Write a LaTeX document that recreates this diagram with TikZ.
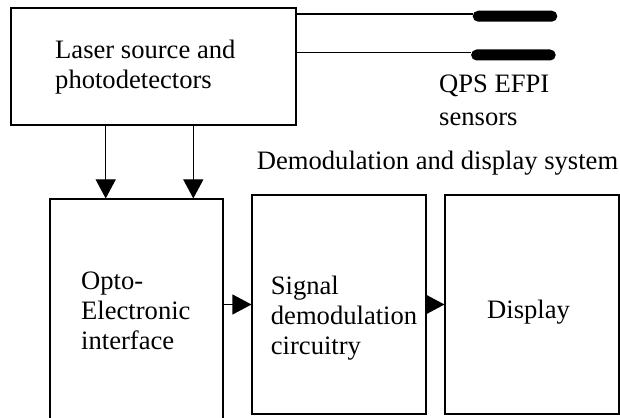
\documentclass[tikz,border=0pt]{standalone}
\usepackage{fontspec}
\setmainfont{Liberation Serif}
\usetikzlibrary{positioning,arrows.meta,calc}
\tikzset{
  blk/.style={rectangle, draw=black, line width=1.1pt, inner sep=0pt},
  txt/.style={font=\fontsize{26.6}{30}\selectfont, align=left, inner sep=0pt, anchor=west},
  ar/.style={-{Triangle[length=19pt,width=20pt]}, line width=1.1pt},
  probe/.style={rectangle, rounded corners=5.5pt, fill=black, inner sep=0pt,
                minimum width=84.6pt, minimum height=11pt},
  fibre/.style={line width=1.1pt},
}

\begin{document}
\begin{tikzpicture}[x=1pt,y=1pt]
  \useasboundingbox (0,0) rectangle (620,417);
  \clip (0,0) rectangle (620,417);

  % laser source and the two sensors
  \node[blk, minimum width=285pt, minimum height=117pt] (laser) at (153.5,350.5) {};
  \node[txt] (lasertxt) at (55,350.2) {Laser source and\\photodetectors};
  \node[probe] (sensa) at (515,400.8) {};
  \node[probe] (sensb) at (513.4,362) {};
  \coordinate (fa) at ([yshift=2.2pt]sensa.west);
  \coordinate (fb) at ([yshift=2.5pt]sensb.west);
  \draw[fibre] (laser.east |- fa) -- (fa);
  \draw[fibre] (laser.east |- fb) -- (fb);
  \node[txt, font=\fontsize{26.6}{32.5}\selectfont] (senstxt) at (439,316.5) {QPS EFPI\\sensors};

  % demodulation and display system
  \node[txt, anchor=base west] (systxt) at (256.7,247) {Demodulation and display system};
  \node[blk, minimum width=173pt, minimum height=224pt] (opto) at (136.5,106) {};
  \node[txt] (optotxt) at (81,106) {Opto-\\Electronic\\interface};
  \node[blk, minimum width=174pt, minimum height=219pt] (sig) at (339,112.5) {};
  \node[txt] (sigtxt) at (270.7,99.2) {Signal\\demodulation\\circuitry};
  \node[blk, minimum width=174pt, minimum height=219pt] (disp) at (532,112.5) {};
  \node[txt] (disptxt) at (487,105) {Display};

  % arrows
  \draw[ar] ([xshift=-47.8pt]laser.south) -- ([xshift=-47.8pt]laser.south |- opto.north);
  \draw[ar] ([xshift=39.8pt]laser.south) -- ([xshift=39.8pt]laser.south |- opto.north);
  \draw[ar] (opto.east |- sig.west) -- (sig.west);
  \draw[ar] (sig.east) -- (disp.west);
\end{tikzpicture}
\end{document}
